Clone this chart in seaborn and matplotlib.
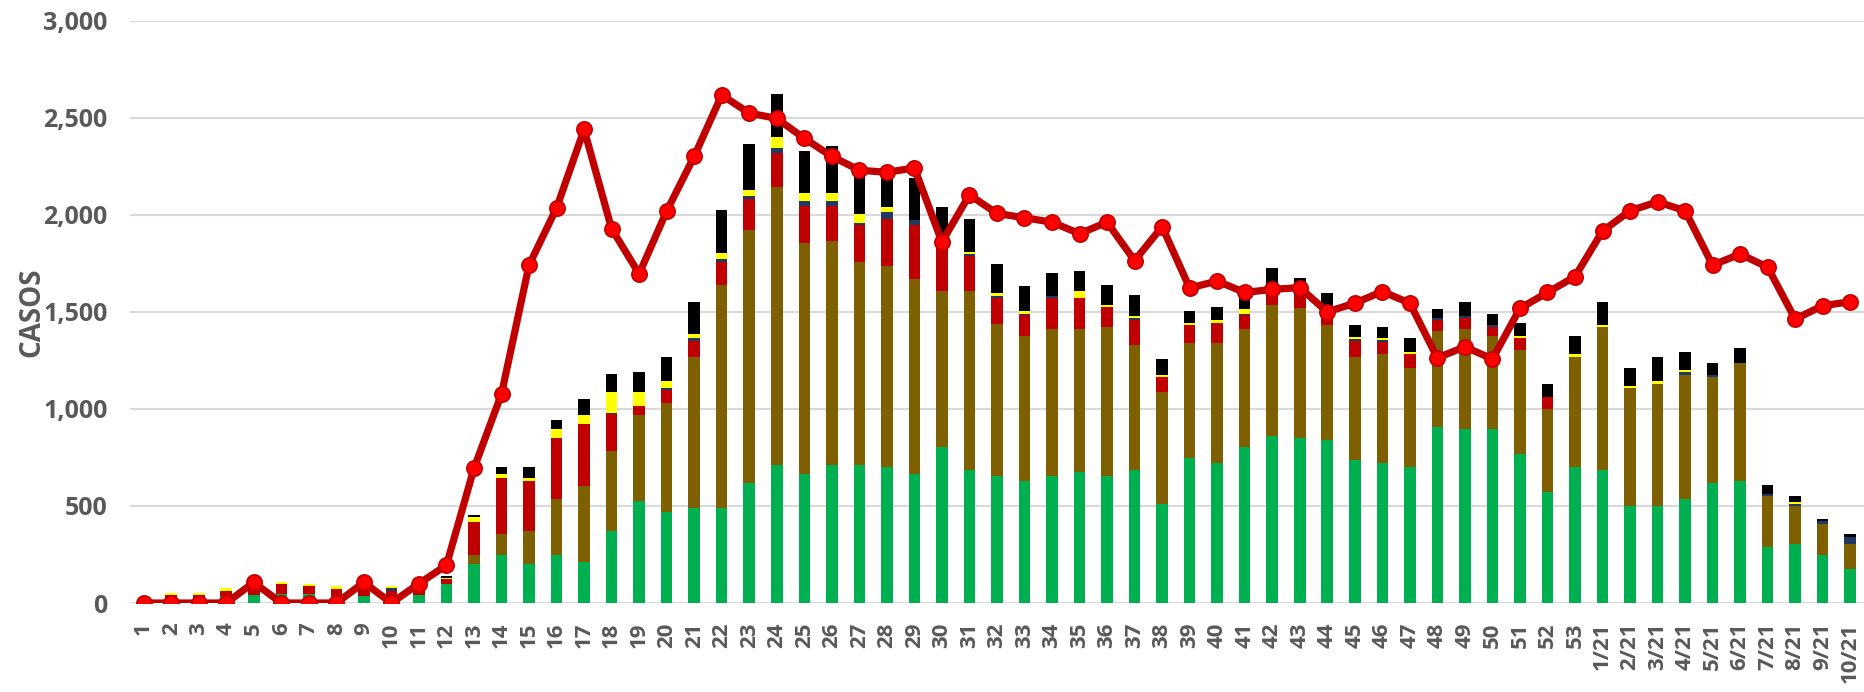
import pandas as pd
import matplotlib
matplotlib.use("Agg")
import matplotlib.pyplot as plt
import seaborn as sns

# Week labels
semanas = [str(i) for i in range(1, 54)] + [f"{i}/21" for i in range(1, 11)]

# Stacked segments per week (bottom to top)
verde = [0, 0, 0, 35, 40, 48, 48, 34, 38, 34, 39, 96, 200, 246, 200, 246, 212, 373, 526, 467,
         489, 489, 619, 712, 665, 712, 712, 701, 665, 803, 687, 653, 630, 653, 676, 653, 687, 512,
         747, 721, 803, 863, 851, 840, 735, 721, 701, 908, 897, 897, 769, 571, 701,
         687, 501, 501, 537, 619, 630, 291, 303, 246, 175]
cafe = [0, 0, 0, 0, 0, 0, 0, 0, 0, 0, 0, 0, 46, 107, 173, 291, 393, 408, 441, 562,
        781, 1152, 1304, 1430, 1188, 1152, 1047, 1033, 1003, 806, 922, 783, 745, 758, 735, 770, 640, 574,
        594, 620, 608, 673, 667, 594, 535, 560, 512, 492, 514, 478, 535, 430, 569,
        736, 607, 630, 640, 546, 606, 258, 198, 161, 128]
rojo = [0, 40, 40, 28, 60, 50, 38, 40, 57, 26, 22, 29, 170, 289, 255, 314, 315, 193, 48, 68,
        80, 116, 160, 175, 195, 184, 187, 246, 278, 246, 178, 137, 107, 162, 162, 102, 130, 79,
        93, 104, 71, 91, 64, 68, 80, 62, 68, 57, 57, 47, 59, 62, 0,
        0, 0, 0, 0, 0, 0, 0, 0, 0, 0]
azul = [0, 0, 0, 0, 0, 0, 0, 0, 0, 17, 0, 0, 0, 0, 0, 0, 0, 7, 0, 9,
        13, 14, 13, 25, 25, 25, 11, 34, 27, 0, 11, 11, 9, 9, 0, 0, 11, 0,
        0, 0, 9, 0, 11, 0, 9, 11, 0, 11, 11, 12, 0, 0, 0,
        0, 0, 0, 11, 12, 0, 11, 11, 14, 36]
amarillo = [0, 10, 10, 12, 0, 12, 12, 12, 0, 12, 10, 5, 28, 23, 14, 46, 47, 105, 71, 37,
            23, 34, 32, 57, 37, 37, 46, 25, 0, 0, 9, 12, 11, 0, 36, 11, 11, 12,
            11, 12, 23, 9, 0, 14, 11, 9, 12, 0, 0, 0, 12, 0, 11,
            11, 12, 12, 11, 0, 0, 0, 11, 0, 0]
negro = [0, 0, 0, 0, 0, 0, 0, 0, 0, 0, 0, 11, 11, 36, 59, 48, 82, 93, 102, 127,
         164, 221, 237, 223, 218, 243, 227, 181, 216, 184, 173, 152, 130, 118, 103, 105, 107, 82,
         57, 70, 66, 89, 84, 82, 64, 59, 70, 46, 71, 57, 70, 68, 94,
         116, 93, 127, 94, 59, 80, 48, 26, 11, 14]

# Line series
linea = [0, 0, 0, 0, 106, 0, 0, 0, 106, 0, 100, 195, 694, 1077, 1741, 2035, 2440, 1928, 1696, 2019,
         2301, 2617, 2524, 2497, 2394, 2301, 2230, 2219, 2242, 1860, 2103, 2007, 1985, 1962, 1903,
         1962, 1764, 1939, 1623, 1659, 1600, 1616, 1625, 1500, 1545, 1605, 1545, 1263, 1320, 1257,
         1518, 1600, 1682, 1916, 2021, 2067, 2021, 1741, 1798, 1730, 1463, 1532, 1552]

capas = ["verde", "cafe", "rojo", "azul", "amarillo", "negro"]
colores = ["#00B050", "#7F6000", "#C00000", "#1F3864", "#FFFF00", "#000000"]

df = pd.DataFrame({"semana": semanas, "verde": verde, "cafe": cafe, "rojo": rojo,
                   "azul": azul, "amarillo": amarillo, "negro": negro, "linea": linea})
acum = df[capas].cumsum(axis=1)

sns.set_theme(style="white")
plt.rcParams["font.family"] = ["Open Sans", "DejaVu Sans"]
gris = "#595959"

fig, ax = plt.subplots(figsize=(18.64, 6.92), dpi=100)
fig.subplots_adjust(left=0.0697, right=1.0, bottom=0.1286, top=0.970)

for y in range(0, 3001, 500):
    ax.axhline(y, color="#D9D9D9", lw=1.5, zorder=0)

# draw cumulative totals from the top layer down so each shows its segment
for capa, color in zip(capas[::-1], colores[::-1]):
    sns.barplot(x=df["semana"], y=acum[capa], color=color, saturation=1,
                width=0.42, linewidth=0, ax=ax, zorder=2)

sns.pointplot(data=df, x="semana", y="linea", color="#C00000", errorbar=None,
              markers="o", linestyles="-", markersize=11, linewidth=5.2,
              markerfacecolor="#FF0000", markeredgecolor="#C00000",
              markeredgewidth=1.2, ax=ax, zorder=5)

ax.set_xlim(-0.5, len(semanas) - 0.5)
ax.set_ylim(0, 3000)
ax.set_yticks(range(0, 3001, 500))
ax.set_yticklabels([f"{v:,}" for v in range(0, 3001, 500)],
                   fontsize=18, fontweight="bold", color=gris)
ax.set_xticks(range(len(semanas)))
ax.set_xticklabels(semanas, rotation=90, fontsize=16, fontweight="bold", color=gris)
ax.tick_params(axis="y", length=0, pad=16)
ax.tick_params(axis="x", length=0, pad=14)
ax.set_xlabel("")
ax.set_ylabel("CASOS", fontsize=20, fontweight="bold", color=gris)
ax.yaxis.set_label_coords(-0.048, 0.5)
for s in ax.spines.values():
    s.set_visible(False)

fig.savefig("out.png", dpi=100)
